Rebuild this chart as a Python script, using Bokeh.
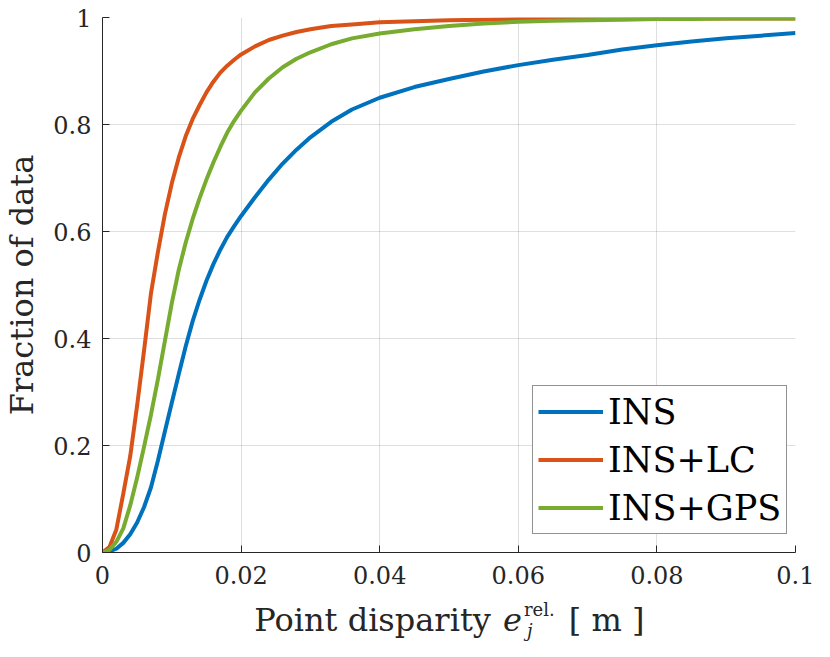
from bokeh.plotting import figure
from bokeh.layouts import column
from bokeh.models import Range1d, FixedTicker, CustomJSTickFormatter
from bokeh.core.properties import value
from bokeh.embed import file_html
from bokeh.resources import INLINE

# ---------------- data ----------------
disparity = [0, 0.001, 0.002, 0.003, 0.004, 0.005, 0.006, 0.007, 0.008, 0.009,
             0.010, 0.011, 0.012, 0.013, 0.014, 0.015, 0.016, 0.017, 0.018, 0.019,
             0.020, 0.022, 0.024, 0.026, 0.028, 0.030, 0.033, 0.036, 0.040, 0.045,
             0.050, 0.055, 0.060, 0.065, 0.070, 0.075, 0.080, 0.085, 0.090, 0.095, 0.100]

frac_ins = [0, 0.002, 0.007, 0.018, 0.034, 0.056, 0.085, 0.122, 0.172, 0.226,
            0.28, 0.333, 0.385, 0.432, 0.472, 0.508, 0.539, 0.566, 0.59, 0.61,
            0.629, 0.664, 0.697, 0.727, 0.753, 0.776, 0.805, 0.828, 0.85, 0.87,
            0.885, 0.899, 0.911, 0.921, 0.93, 0.94, 0.948, 0.955, 0.961, 0.966, 0.971]

frac_ins_lc = [0, 0.01, 0.043, 0.11, 0.18, 0.275, 0.378, 0.485, 0.562, 0.632,
               0.69, 0.738, 0.778, 0.81, 0.836, 0.86, 0.88, 0.897, 0.91, 0.921,
               0.931, 0.946, 0.958, 0.966, 0.973, 0.978, 0.984, 0.987, 0.991, 0.993,
               0.995, 0.996, 0.997, 0.998, 0.998, 0.998, 0.998, 0.998, 0.998, 0.998, 0.998]

frac_ins_gps = [0, 0.005, 0.02, 0.045, 0.088, 0.14, 0.198, 0.258, 0.324, 0.395,
                0.466, 0.528, 0.579, 0.623, 0.662, 0.697, 0.729, 0.758, 0.785, 0.807,
                0.826, 0.86, 0.886, 0.907, 0.923, 0.935, 0.95, 0.961, 0.97, 0.978,
                0.984, 0.989, 0.992, 0.994, 0.995, 0.996, 0.997, 0.997, 0.998, 0.998, 0.998]

series_names = ["INS", "INS+LC", "INS+GPS"]
series_colors = ["#0072BD", "#D95319", "#77AC30"]

x_ticks = [0, 0.02, 0.04, 0.06, 0.08, 0.1]
y_ticks = [0, 0.2, 0.4, 0.6, 0.8, 1]

# x-axis title pieces: text, font size, style
xlabel_parts = [("Point disparity", "32px", "normal"),
                ("e", "32px", "italic"),
                ("rel.", "18px", "normal"),
                ("j", "18px", "italic"),
                ("[ m ]", "32px", "normal")]
# layout of those pieces (px inside the strip below the plot; y = text middle)
xlabel_pos = [(253, 23), (502, 23), (523, 13), (526, 34), (568, 23)]

# ---------------- style ----------------
FONT = "DejaVu Serif"
AX = "#262626"
W = 814
H_MAIN = 596
H_LAB = 45
B_LEFT, B_RIGHT = 101, 19

p = figure(width=W, height=H_MAIN, output_backend="svg", toolbar_location=None,
           x_range=Range1d(0, 0.1), y_range=Range1d(0, 1),
           min_border_left=B_LEFT, min_border_right=B_RIGHT, min_border_top=17,
           min_border_bottom=H_MAIN - 552)
p.outline_line_color = None
p.background_fill_color = "white"
p.border_fill_color = "white"

for name, ys, col in zip(series_names, [frac_ins, frac_ins_lc, frac_ins_gps], series_colors):
    p.line(disparity, ys, line_color=col, line_width=4, legend_label=name)

fmt = CustomJSTickFormatter(code="return String(tick);")

for ax, ticks in ((p.xaxis[0], x_ticks), (p.yaxis[0], y_ticks)):
    ax.ticker = FixedTicker(ticks=ticks)
    ax.formatter = fmt
    ax.axis_line_color = AX
    ax.axis_line_width = 1
    ax.major_tick_line_color = AX
    ax.major_tick_in = 7
    ax.major_tick_out = 0
    ax.minor_tick_line_color = None
    ax.major_label_text_font = FONT
    ax.major_label_text_font_size = "24px"
    ax.major_label_text_color = AX

p.xaxis.major_label_standoff = 13
p.yaxis.major_label_standoff = 11

p.yaxis.axis_label = "Fraction of data"
p.yaxis.axis_label_text_font = FONT
p.yaxis.axis_label_text_font_size = "32px"
p.yaxis.axis_label_text_font_style = "normal"
p.yaxis.axis_label_text_color = AX
p.yaxis.axis_label_standoff = 9

p.grid.grid_line_color = AX
p.grid.grid_line_alpha = 0.15
p.grid.grid_line_width = 1

leg = p.legend[0]
leg.location = (430, 18)
leg.margin = 0
leg.padding = 5
leg.spacing = 7
leg.label_height = 41
leg.glyph_height = 41
leg.glyph_width = 65
leg.label_standoff = 5
leg.label_text_font = FONT
leg.label_text_font_size = "35px"
leg.label_text_color = "#000000"
leg.border_line_color = AX
leg.border_line_width = 1
leg.background_fill_color = "white"
leg.background_fill_alpha = 1

# strip below the plot holding the x-axis title (mixed styles); its frame has
# the same horizontal extent as the main frame, its x range is canvas pixels
q = figure(width=W, height=H_LAB, output_backend="svg", toolbar_location=None,
           x_axis_location=None, y_axis_location=None,
           x_range=Range1d(B_LEFT, W - B_RIGHT), y_range=Range1d(H_LAB, 0),
           min_border_left=B_LEFT, min_border_right=B_RIGHT,
           min_border_top=0, min_border_bottom=0)
q.grid.visible = False
q.outline_line_color = None
q.background_fill_color = "white"
q.border_fill_color = "white"
for (txt, size, style), (px, py) in zip(xlabel_parts, xlabel_pos):
    q.text(x=[px], y=[py], text=[txt], text_font=value(FONT), text_font_size=size,
           text_font_style=style, text_color=AX, text_align="left",
           text_baseline="middle")

layout = column(p, q, spacing=0)
open("out.html", "w").write(file_html(layout, INLINE))
